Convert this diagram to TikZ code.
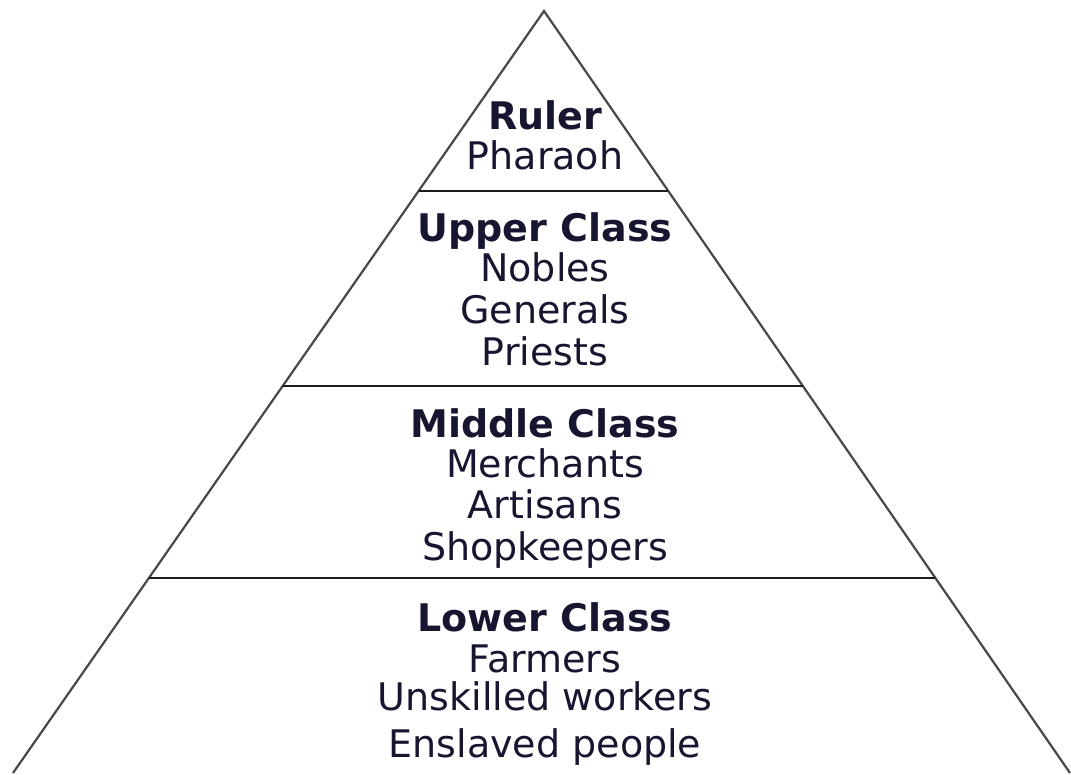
\documentclass[tikz,border=0pt]{standalone}
\usepackage{fontspec}
\setmainfont{DejaVu Sans}
\usetikzlibrary{calc}
\definecolor{txt}{HTML}{161630}
\definecolor{side}{HTML}{484848}
\definecolor{rule}{HTML}{1A1A1A}
\tikzset{
  sideline/.style={draw=side, line width=1.1pt},
  tierline/.style={draw=rule, line width=1.3pt},
  head/.style={anchor=base, inner sep=0pt, text=txt, font=\fontsize{19}{21}\selectfont\bfseries},
  item/.style={anchor=base, inner sep=0pt, text=txt, font=\fontsize{19}{21}\selectfont},
}
\begin{document}
\begin{tikzpicture}[x=0.5pt, y=-0.5pt]
\useasboundingbox (0,0) rectangle (1071,775);
\fill[white] (0,0) rectangle (1071,775);
\coordinate (A) at (544,11);
\coordinate (BL) at (13,773);
\coordinate (BR) at (1070,773);
\draw[sideline] (BL) -- (A) -- (BR);
% tier dividers
\coordinate (L1) at ($(A)!0.2362!(BL)$);
\coordinate (R1) at ($(A)!0.2362!(BR)$);
\coordinate (L2) at ($(A)!0.4921!(BL)$);
\coordinate (R2) at ($(A)!0.4921!(BR)$);
\coordinate (L3) at ($(A)!0.7441!(BL)$);
\coordinate (R3) at ($(A)!0.7441!(BR)$);
\draw[tierline] (L1) -- (R1);
\draw[tierline] (L2) -- (R2);
\draw[tierline] (L3) -- (R3);
% texts
\node[head] (ruler) at (545,130) {Ruler};
\node[item] (pharaoh) at (545,170) {Pharaoh};
\node[head] (upper) at (545,242) {Upper Class};
\node[item] (nobles) at (545,282) {Nobles};
\node[item] (generals) at (545,323) {Generals};
\node[item] (priests) at (545,365) {Priests};
\node[head] (middle) at (545,437) {Middle Class};
\node[item] (merchants) at (545,477) {Merchants};
\node[item] (artisans) at (545,518) {Artisans};
\node[item] (shopkeepers) at (545,560) {Shopkeepers};
\node[head] (lower) at (545,631) {Lower Class};
\node[item] (farmers) at (545,672) {Farmers};
\node[item] (unskilled) at (545,710) {Unskilled workers};
\node[item] (enslaved) at (545,757) {Enslaved people};
\end{tikzpicture}
\end{document}
